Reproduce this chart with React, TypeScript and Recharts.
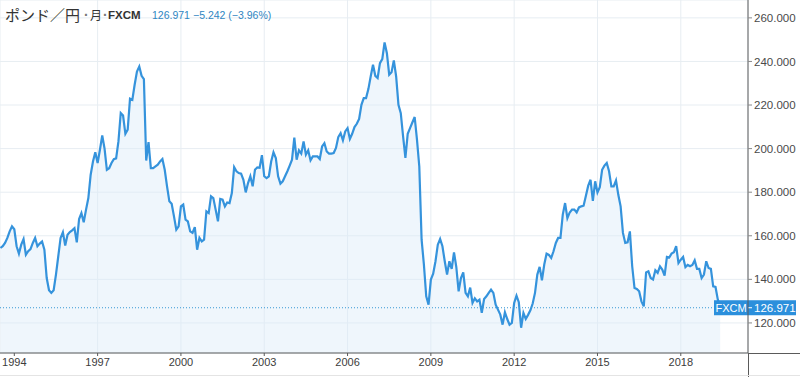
import { ComposedChart, Area, XAxis, YAxis, CartesianGrid, ReferenceLine } from "recharts";

// monthly closes, GBP/JPY (FXCM)
const start = 1993.5; // Jul 1993
const v1993to1999 = [
  154.4, 155.2, 156.7, 159, 162, 164.3,
  163, 155.2, 151.8, 155.9, 158.5, 151.3, 152.9, 153.9, 156.7, 159, 155.2, 156.4,
  157.4, 153.6, 140.6, 135, 133.8, 135, 142.2, 150.6, 159, 161.6, 155.5, 160.5,
  161.7, 162.5, 163.5, 157, 167.7, 170.4, 166.2, 172, 177.3, 188, 194.1, 198.3,
  193.4, 199.5, 206, 200, 190.3, 191, 193.4, 195.2, 195.5, 203.3, 216.3, 215.2,
  206.8, 208.7, 222.9, 222.4, 229.3, 235.4, 237.7, 233.4, 231.9, 194.5, 203, 191,
  191, 191.8, 192.6, 194.1, 195.2, 190.3, 182.7, 175.8, 174.7, 168.9, 162.8, 164.3,
];
const v2000to2006 = [
  173.5, 174.3, 167.4, 166.6, 162, 161.3, 164, 153.6, 159, 157.4, 158.2, 171.2,
  170.4, 178.1, 177.3, 172, 166.6, 176.9, 176.6, 173.5, 175.3, 175, 179.6, 191.5,
  189.6, 188.8, 188.5, 185.7, 179.9, 184.2, 187.3, 182.7, 190.3, 191.4, 191.2, 197,
  187.3, 186.5, 187.3, 194.1, 198.3, 195.7, 187.3, 183.9, 185, 187.3, 189.6, 192.2,
  194.9, 205, 194.9, 199.2, 197.7, 203.3, 197.2, 199.2, 194.6, 196.4, 196.4, 196.4,
  195.2, 201, 202.5, 198.7, 197.7, 197.7, 198, 200.3, 205.3, 207.1, 203.8, 207.9,
  209.4, 204.4, 206.8, 209.9, 211.4, 213.6, 220.1, 223.2, 223.2, 227.3, 233.1, 238.5,
];
const v2007to2012 = [
  233.4, 232.4, 239.2, 241.1, 248.7, 243.8, 233.9, 235, 240.5, 233.1, 220.1, 216.3,
  205.6, 195.7, 206.8, 209.4, 212, 214.5, 204.1, 191.8, 158.2, 146.7, 132.2, 128.4,
  139.9, 142.6, 148.3, 155.9, 158.5, 155.2, 148.3, 142.2, 148.3, 144.8, 152.4, 145.6,
  134.5, 140.6, 143.2, 133.8, 132.2, 136.2, 129.2, 131.3, 129.9, 130.7, 124.6, 131,
  132.2, 133.8, 135.3, 133.8, 128.4, 126.1, 123.8, 119.2, 124.9, 121.8, 119.2, 120,
  129.2, 132.5, 129.5, 117.8, 124.6, 121.8, 123.7, 125.8, 128.9, 133.8, 142.2, 145.7,
];
const v2013to2019 = [
  139.6, 146.8, 151.8, 151.2, 149.8, 152.9, 156.7, 159, 159, 169.7, 175, 168.1,
  170.7, 172, 172, 170.7, 173, 173.5, 173.8, 178.4, 183, 185.7, 176, 185,
  179.9, 182.3, 190.3, 192.2, 193.4, 189.6, 182.7, 182.7, 185.4, 178.8, 173.5, 161.3,
  156.7, 157, 162, 146, 136, 135.6, 134.5, 129.9, 127.6, 143.2, 143.7, 140.6,
  139.9, 144.2, 143, 146, 144.5, 141.7, 150.3, 150, 151.8, 152.4, 155.2, 147.5,
  149, 150.3, 145.6, 146.6, 146, 146.6, 148.7, 144.8, 144.8, 140.6, 142.2, 148.3,
  145.2, 144.8, 136.8, 136.5, 130.7, 126.971,
];
const yearTicks = [1994, 1997, 2000, 2003, 2006, 2009, 2012, 2015, 2018];
const priceTicks = [120, 140, 160, 180, 200, 220, 240, 260];
const last = 126.971;

const values = [...v1993to1999, ...v2000to2006, ...v2007to2012, ...v2013to2019];
const data = values.map((v, i) => ({ t: start + i / 12, v }));

const blue = "#3593dc";
const font = "'Liberation Sans', Arial, sans-serif";
const jp = "'Noto Sans CJK JP', 'Liberation Sans', sans-serif";

const PriceTag = (props: any) => {
  const { viewBox } = props;
  if (!viewBox) return null;
  const right = viewBox.x + viewBox.width;
  const y = viewBox.y;
  return (
    <g>
      <rect x={right - 34} y={y - 7.5} width={82} height={15} fill="#2b8fdc" />
      <text x={right - 17} y={y + 4} textAnchor="middle" fill="#fff" fontSize={11} fontFamily={font}>
        FXCM
      </text>
      <line x1={right} x2={right + 4} y1={y} y2={y} stroke="#fff" />
      <text x={right + 6} y={y + 4} fill="#fff" fontSize={11.5} fontFamily={font}>
        {last.toFixed(3)}
      </text>
    </g>
  );
};

const titleBit = (left: number, extra: any = {}) => ({
  position: "absolute" as const,
  left,
  top: 6,
  lineHeight: "18px",
  whiteSpace: "nowrap" as const,
  ...extra,
});

export default function App() {
  return (
    <div style={{ position: "absolute", left: 0, top: 0, width: 800, height: 377, background: "#fff", fontFamily: font }}>
      <ComposedChart width={800} height={377} data={data} margin={{ top: 0, right: 0, bottom: 0, left: 0 }}>
        <CartesianGrid stroke="#e7edf2" />
        <XAxis
          type="number"
          dataKey="t"
          domain={[1993.485, 2020.42]}
          ticks={yearTicks}
          tickFormatter={(v) => String(v)}
          allowDataOverflow
          height={24}
          axisLine={{ stroke: "#5a5a5a" }}
          tickLine={{ stroke: "#5a5a5a" }}
          tickSize={3}
          tick={{ fontSize: 11, fill: "#3c3c3c", fontFamily: font }}
        />
        <YAxis
          orientation="right"
          domain={[106.2, 268.2]}
          ticks={priceTicks}
          tickFormatter={(v) => Number(v).toFixed(3)}
          allowDataOverflow
          width={52}
          axisLine={{ stroke: "#5a5a5a" }}
          tickLine={{ stroke: "#8a8a8a" }}
          tickSize={4}
          tick={{ fontSize: 11.5, fill: "#4a4a4a", fontFamily: font }}
        />
        <Area
          type="linear"
          dataKey="v"
          stroke={blue}
          strokeWidth={2.2}
          fill="#dcebf9"
          fillOpacity={0.45}
          dot={false}
          activeDot={false}
          isAnimationActive={false}
        />
        <ReferenceLine y={last} stroke="#3a9ad6" strokeDasharray="1 2" label={PriceTag} />
      </ComposedChart>
      <div style={{ position: "absolute", left: 748, top: 353, width: 52, height: 1, background: "#5a5a5a" }} />
      <div style={{ position: "absolute", left: 747.5, top: 353, width: 1, height: 24, background: "#5a5a5a" }} />
      <div style={{ position: "absolute", left: 0, top: 375, width: 800, height: 1, background: "#e4e4e4" }} />
      <span style={titleBit(5, { fontFamily: jp, fontSize: 15, color: "#333" })}>ポンド／円</span>
      <span style={titleBit(84, { fontFamily: font, fontSize: 14, fontWeight: 700, color: "#777" })}>·</span>
      <span style={titleBit(90, { fontFamily: jp, fontSize: 12, color: "#333" })}>月</span>
      <span style={titleBit(103, { fontFamily: font, fontSize: 14, fontWeight: 700, color: "#777" })}>·</span>
      <span style={titleBit(108, { fontFamily: font, fontSize: 11.5, fontWeight: 700, color: "#333" })}>FXCM</span>
      <span style={titleBit(152, { fontFamily: font, fontSize: 10.5, color: "#2f86c2" })}>126.971</span>
      <span style={titleBit(193, { fontFamily: font, fontSize: 10.5, color: "#2f86c2" })}>−5.242 (−3.96%)</span>
    </div>
  );
}
